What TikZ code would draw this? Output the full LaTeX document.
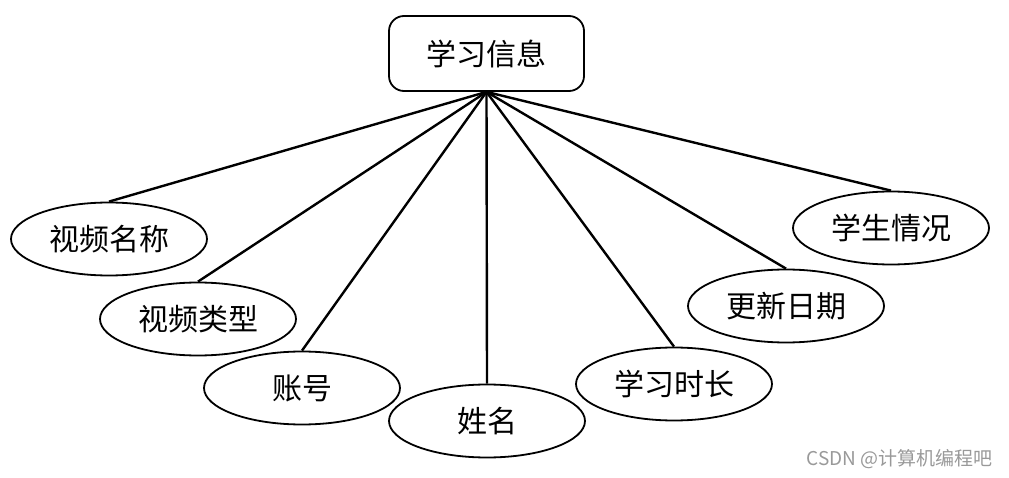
\documentclass[tikz,border=0pt]{standalone}
\usepackage{fontspec}
\setmainfont{Noto Sans CJK SC}
\newfontfamily\cjk{Noto Sans CJK SC}
\usetikzlibrary{shapes.geometric}
\begin{document}
\begin{tikzpicture}[x=1pt,y=-1pt,
  entbox/.style={draw, line width=1.8pt, rounded corners=15pt, minimum width=195pt, minimum height=75pt, inner sep=0pt, font=\cjk\fontsize{30}{34}\selectfont},
  attr/.style={ellipse, draw, line width=1.8pt, minimum width=196pt, minimum height=73pt, inner sep=0pt, font=\cjk\fontsize{30}{34}\selectfont},
  link/.style={line width=2.4pt}]
\useasboundingbox (0,0) rectangle (1009,478);
\node[entbox] (top) at (486.5,53.5) {学习信息};
\node[attr] (a1) at (109,239) {视频名称};
\node[attr] (a2) at (198,319) {视频类型};
\node[attr] (a3) at (302,388) {账号};
\node[attr] (a4) at (487,421) {姓名};
\node[attr] (a5) at (674,384) {学习时长};
\node[attr] (a6) at (786,306) {更新日期};
\node[attr] (a7) at (891,228) {学生情况};
\foreach \n in {a1,a2,a3,a4,a5,a6,a7}
  \draw[link] (top.south) -- (\n.north);
\node[text=gray!80, font=\cjk\fontsize{19}{22}\selectfont, anchor=east, inner sep=0pt] (wm) at (993,459) {CSDN @计算机编程吧};
\end{tikzpicture}
\end{document}
